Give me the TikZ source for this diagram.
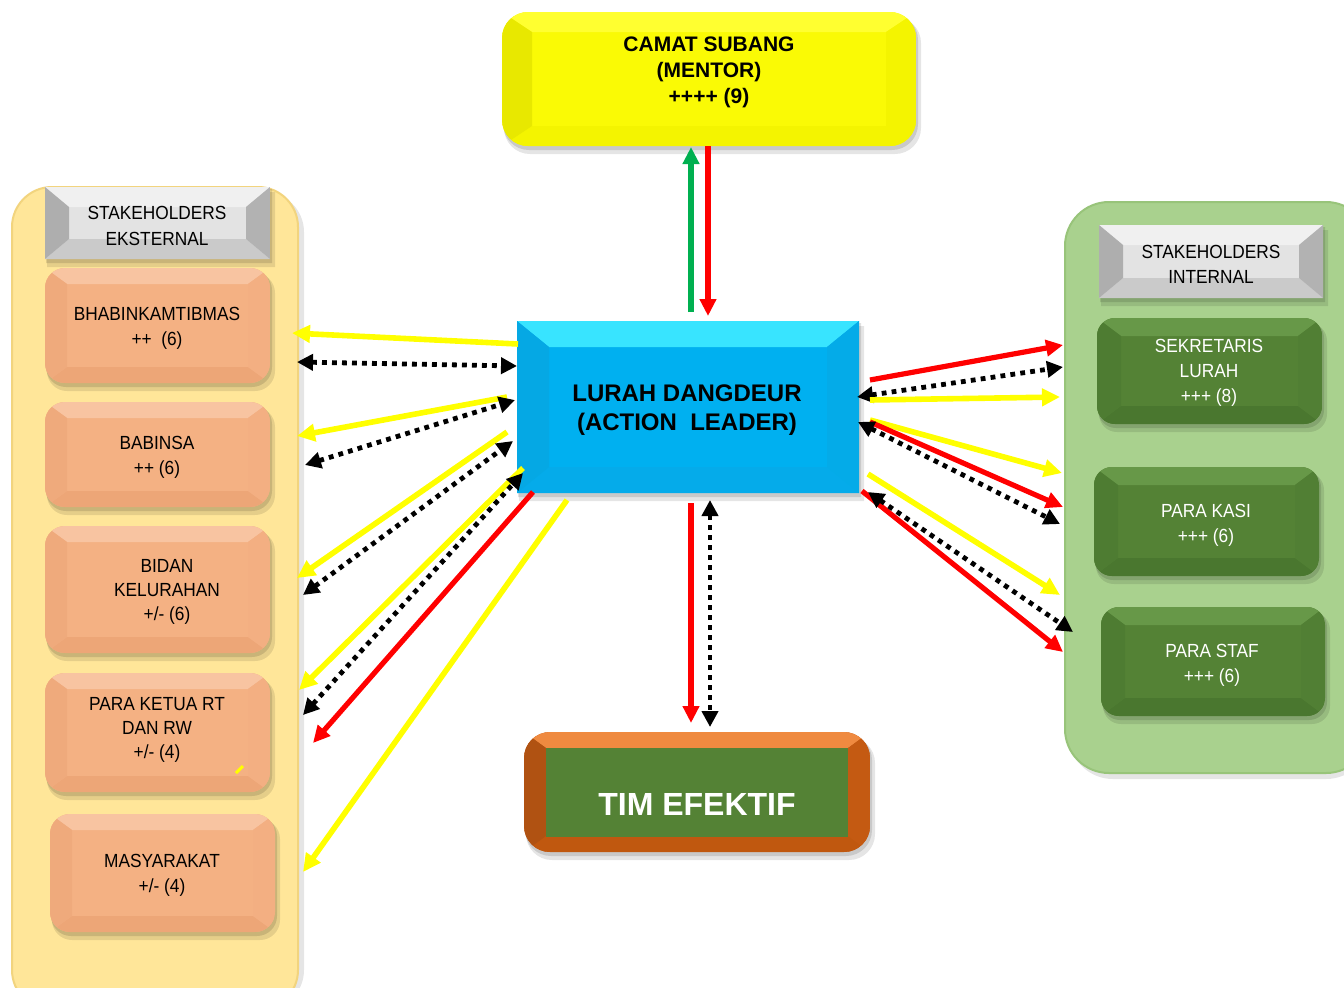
\documentclass[tikz,border=0pt]{standalone}
\usepackage{fontspec}
\setmainfont{Liberation Sans}
\newfontfamily\narrowsans[FakeStretch=0.91]{Liberation Sans}
\usetikzlibrary{arrows.meta}
% colours
\definecolor{orface}{HTML}{F4B183}\definecolor{ortop}{HTML}{F8C4A1}\definecolor{orbot}{HTML}{EDA677}\definecolor{orleft}{HTML}{EFAA7C}\definecolor{orright}{HTML}{F3AF82}
\definecolor{grface}{HTML}{548235}\definecolor{grtop}{HTML}{679848}\definecolor{grbot}{HTML}{4A772F}\definecolor{grleft}{HTML}{4E7C32}\definecolor{grright}{HTML}{517F34}
\definecolor{gyface}{HTML}{E3E3E3}\definecolor{gytop}{HTML}{F0F0F0}\definecolor{gybot}{HTML}{CACACA}\definecolor{gyleft}{HTML}{AEAEAE}\definecolor{gyright}{HTML}{B2B2B2}
\definecolor{cyface}{HTML}{00B0F0}\definecolor{cytop}{HTML}{38E4FF}\definecolor{cybot}{HTML}{05ABEA}\definecolor{cyleft}{HTML}{05A8E4}\definecolor{cyright}{HTML}{04ABE8}
\definecolor{ylface}{HTML}{FAFA05}\definecolor{yltop}{HTML}{FFFF30}\definecolor{ylbot}{HTML}{F4F400}\definecolor{ylleft}{HTML}{E8E800}\definecolor{ylright}{HTML}{F4F400}
\definecolor{tmface}{HTML}{C55A11}\definecolor{tmtop}{HTML}{EF8A40}\definecolor{tmbot}{HTML}{C0580F}\definecolor{tmleft}{HTML}{B05212}\definecolor{tmright}{HTML}{C45A12}
\definecolor{tmgreen}{HTML}{548235}
\definecolor{extpanel}{HTML}{FFE699}\definecolor{extedge}{HTML}{F2D47E}
\definecolor{intpanel}{HTML}{A9D18E}\definecolor{intedge}{HTML}{98C47A}
\definecolor{arrY}{HTML}{FFFF00}\definecolor{arrR}{HTML}{FF0000}\definecolor{arrG}{HTML}{00B050}
% bevelled box: x1 y1 x2 y2 dx dy radius colour-prefix
\newcommand\bevbox[8]{%
  \fill[black,opacity=.10,rounded corners=#7] (#1+2,#2+5) rectangle (#3+5,#4+8);
  \fill[black,opacity=.12,rounded corners=#7] (#1+1,#2+2) rectangle (#3+2,#4+4);
  \begin{scope}
    \clip[rounded corners=#7] (#1,#2) rectangle (#3,#4);
    \fill[#8face] (#1,#2) rectangle (#3,#4);
    \fill[#8top] (#1,#2) -- (#3,#2) -- (#3-#5,#2+#6) -- (#1+#5,#2+#6) -- cycle;
    \fill[#8bot] (#1,#4) -- (#3,#4) -- (#3-#5,#4-#6) -- (#1+#5,#4-#6) -- cycle;
    \fill[#8left] (#1,#2) -- (#1+#5,#2+#6) -- (#1+#5,#4-#6) -- (#1,#4) -- cycle;
    \fill[#8right] (#3,#2) -- (#3-#5,#2+#6) -- (#3-#5,#4-#6) -- (#3,#4) -- cycle;
  \end{scope}}
\tikzset{
  lbl/.style={align=center, inner sep=0pt, font=\narrowsans\fontsize{9.5}{12.6}\selectfont},
  wlbl/.style={lbl, text=white},
  ya/.style={draw=arrY, line width=2.8pt, -{Triangle[length=9pt,width=8.5pt]}, arrY},
  ra/.style={draw=arrR, line width=2.6pt, -{Triangle[length=8.5pt,width=8pt]}, arrR},
  ga/.style={draw=arrG, line width=2.6pt, -{Triangle[length=8.5pt,width=8pt]}, arrG},
  ba/.style={draw=black, line width=2.4pt, dash pattern=on 2.4pt off 2.6pt,
    {Triangle[length=8pt,width=8pt]}-{Triangle[length=8pt,width=8pt]}},
}
\begin{document}
\begin{tikzpicture}[x=0.5pt, y=-0.5pt]
\useasboundingbox (0,0) rectangle (1344,987);
\fill[white] (0,0) rectangle (1344,987);
\clip (0,0) rectangle (1344,987);

% ---------- panels ----------
\fill[black,opacity=.10,rounded corners=20pt] (16,192) rectangle (304,1010);
\fill[extpanel, draw=extedge, line width=1pt, rounded corners=20pt] (12,187) rectangle (298,1010);
\fill[black,opacity=.10,rounded corners=22pt] (1069,207) rectangle (1370,779);
\fill[intpanel, draw=intedge, line width=1pt, rounded corners=22pt] (1065,202) rectangle (1370,773);

% ---------- left column ----------
\bevbox{45}{187}{270}{259}{24}{20}{0.1pt}{gy}
\node[lbl] (ekst) at (157,226) {STAKEHOLDERS\\EKSTERNAL};
\bevbox{45}{268}{270}{383}{22}{16}{10pt}{or}
\node[lbl] (bhab) at (157,328) {BHABINKAMTIBMAS\\++\ \ (6)};
\bevbox{45}{402}{270}{507}{22}{16}{10pt}{or}
\node[lbl] (babinsa) at (157,457) {BABINSA\\++ (6)};
\bevbox{45}{526}{270}{653}{22}{16}{10pt}{or}
\node[lbl, font=\narrowsans\fontsize{9.5}{12.2}\selectfont] (bidan) at (167,592) {BIDAN\\KELURAHAN\\+/- (6)};
\bevbox{45}{673}{270}{792}{22}{16}{10pt}{or}
\node[lbl, font=\narrowsans\fontsize{9.5}{12}\selectfont] (ketua) at (157,730) {PARA KETUA RT\\DAN RW\\+/- (4)};
\draw[arrY, line width=1.5pt] (236,773) -- (243,766);
\bevbox{50}{814}{275}{932}{22}{16}{10pt}{or}
\node[lbl] (masy) at (162,875) {MASYARAKAT\\+/- (4)};

% ---------- right column ----------
\bevbox{1099}{225}{1323}{298}{24}{20}{0.1pt}{gy}
\node[lbl] (int) at (1211,264) {STAKEHOLDERS\\INTERNAL};
\bevbox{1097}{318}{1322}{424}{24}{18}{9pt}{gr}
\node[wlbl] (sekr) at (1209,373) {SEKRETARIS\\LURAH\\+++ (8)};
\bevbox{1094}{467}{1319}{576}{24}{18}{9pt}{gr}
\node[wlbl] (kasi) at (1206,525) {PARA KASI\\+++ (6)};
\bevbox{1101}{607}{1325}{716}{24}{18}{9pt}{gr}
\node[wlbl] (staf) at (1212,665) {PARA STAF\\+++ (6)};

% ---------- centre ----------
\bevbox{502}{12}{916}{146}{30}{20}{13pt}{yl}
\node[lbl, font=\fontsize{10.5}{13}\selectfont\bfseries] (camat) at (709,72) {CAMAT SUBANG\\(MENTOR)\\++++ (9)};
\bevbox{517}{321}{859}{493}{32}{26}{0.1pt}{cy}
\node[lbl, font=\fontsize{12}{14.5}\selectfont\bfseries] (lurah) at (687,410) {LURAH DANGDEUR\\(ACTION\ \ LEADER)};
\bevbox{524}{732}{870}{852}{22}{16}{13pt}{tm}
\fill[tmgreen] (546,748) rectangle (848,837);
\node[lbl, text=white, font=\fontsize{16}{19}\selectfont\bfseries] (tim) at (697,804) {TIM EFEKTIF};

% ---------- connector end points ----------
% top / bottom
\coordinate (tG1) at (691,312); \coordinate (tG2) at (691,147);
\coordinate (tR1) at (708,146); \coordinate (tR2) at (708,316);
\coordinate (bR1) at (691,503); \coordinate (bR2) at (691,723);
\coordinate (bB1) at (710,500); \coordinate (bB2) at (710,727);
% left side
\coordinate (L1a) at (518,344); \coordinate (L1b) at (292,333);
\coordinate (L2a) at (297,362); \coordinate (L2b) at (517,366);
\coordinate (L3a) at (507,397); \coordinate (L3b) at (297,436);
\coordinate (L4a) at (305,465); \coordinate (L4b) at (515,400);
\coordinate (L5a) at (507,432); \coordinate (L5b) at (297,578);
\coordinate (L6a) at (303,595); \coordinate (L6b) at (513,441);
\coordinate (L7a) at (523,468); \coordinate (L7b) at (299,690);
\coordinate (L8a) at (303,715); \coordinate (L8b) at (523,473);
\coordinate (L9a) at (533,492); \coordinate (L9b) at (313,743);
\coordinate (L10a) at (567,500); \coordinate (L10b) at (303,872);
% right side
\coordinate (R1a) at (870,380); \coordinate (R1b) at (1063,345);
\coordinate (R2a) at (857,397); \coordinate (R2b) at (1063,367);
\coordinate (R3a) at (870,400); \coordinate (R3b) at (1060,397);
\coordinate (R4a) at (870,420); \coordinate (R4b) at (1062,473);
\coordinate (R5a) at (870,422); \coordinate (R5b) at (1063,507);
\coordinate (R6a) at (858,422); \coordinate (R6b) at (1060,524);
\coordinate (R7a) at (868,474); \coordinate (R7b) at (1060,595);
\coordinate (R8a) at (862,491); \coordinate (R8b) at (1063,652);
\coordinate (R9a) at (868,492); \coordinate (R9b) at (1073,632);

% ---------- connectors ----------
\draw[ga] (tG1) -- (tG2);
\draw[ra] (tR1) -- (tR2);
\draw[ra] (bR1) -- (bR2);
\draw[ba] (bB1) -- (bB2);

\draw[ya] (L1a) -- (L1b);
\draw[ba] (L2a) -- (L2b);
\draw[ya] (L3a) -- (L3b);
\draw[ba] (L4a) -- (L4b);
\draw[ya] (L5a) -- (L5b);
\draw[ba] (L6a) -- (L6b);
\draw[ya] (L7a) -- (L7b);
\draw[ba] (L8a) -- (L8b);
\draw[ra] (L9a) -- (L9b);
\draw[ya] (L10a) -- (L10b);

\draw[ra] (R1a) -- (R1b);
\draw[ba] (R2a) -- (R2b);
\draw[ya] (R3a) -- (R3b);
\draw[ya] (R4a) -- (R4b);
\draw[ra] (R5a) -- (R5b);
\draw[ba] (R6a) -- (R6b);
\draw[ya] (R7a) -- (R7b);
\draw[ra] (R8a) -- (R8b);
\draw[ba] (R9a) -- (R9b);
\end{tikzpicture}
\end{document}
